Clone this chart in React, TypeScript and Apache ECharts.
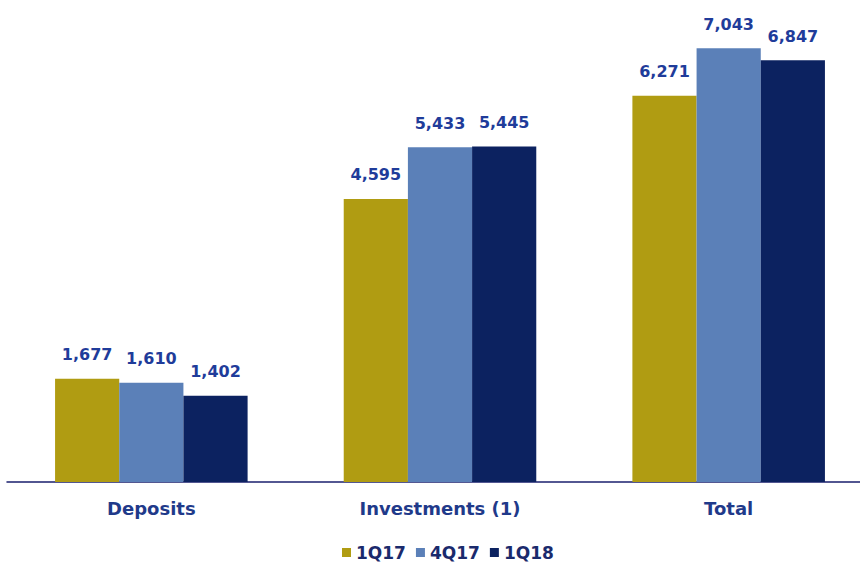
import React, { useEffect, useRef } from "react";
import * as echarts from "echarts";

const categories = ["Deposits", "Investments (1)", "Total"];
const seriesNames = ["1Q17", "4Q17", "1Q18"];
const q1_17 = [1677, 4595, 6271];
const q4_17 = [1610, 5433, 7043];
const q1_18 = [1402, 5445, 6847];
const colors = ["#B09C12", "#5B80B8", "#0C2260"];

export default function App() {
  const ref = useRef<HTMLDivElement>(null);
  useEffect(() => {
    if (!ref.current) return;
    document.body.style.overflow = "hidden";
    const chart = echarts.init(ref.current, undefined, { renderer: "svg" });
    const font = "'DejaVu Sans', sans-serif";
    const values = [q1_17, q4_17, q1_18];
    chart.setOption({
      animation: false,
      grid: { left: 7, right: 7, top: 20, bottom: 85, containLabel: false },
      legend: {
        data: seriesNames,
        left: 337,
        top: 539,
        itemWidth: 9,
        itemHeight: 9,
        itemGap: 10,
        icon: "rect",
        textStyle: { fontFamily: font, fontWeight: "bold", fontSize: 17, color: "#1A2A6C" },
      },
      xAxis: {
        type: "category",
        data: categories,
        axisTick: { show: false },
        axisLine: { lineStyle: { color: "#1A1F6E", width: 1.5 } },
        axisLabel: {
          margin: 17,
          fontFamily: font,
          fontWeight: "bold",
          fontSize: 18,
          color: "#1F3A8A",
        },
      },
      yAxis: {
        type: "value",
        min: 0,
        max: 7500,
        show: false,
        splitLine: { show: false },
      },
      series: seriesNames.map((name, i) => ({
        name,
        type: "bar",
        data: values[i],
        barGap: "0%",
        barCategoryGap: "33.3%",
        itemStyle: { color: colors[i] },
        label: {
          show: true,
          position: "top",
          distance: 16,
          fontFamily: font,
          fontWeight: "bold",
          fontSize: 16,
          color: "#1F3C9A",
          formatter: (p: any) => p.value.toLocaleString("en-US"),
        },
      })),
    });
    return () => chart.dispose();
  }, []);
  return (
    <div
      ref={ref}
      style={{ position: "fixed", left: 0, top: 0, width: 880, height: 567, background: "#fff" }}
    />
  );
}
